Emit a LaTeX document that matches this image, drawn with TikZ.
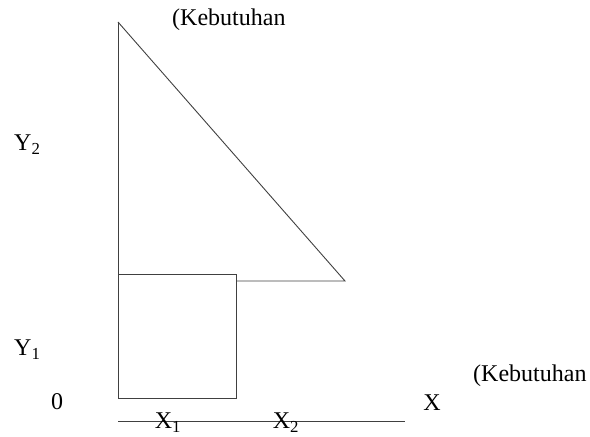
\documentclass[tikz,border=0pt]{standalone}
\usepackage{fontspec}
\setmainfont{Liberation Serif}
\begin{document}
\begin{tikzpicture}[x=1pt,y=-1pt,
  ln/.style={draw=black!75,line width=0.9pt},
  lbl/.style={font=\fontsize{24}{28}\selectfont,inner sep=0pt,anchor=center}]
\useasboundingbox (0,0) rectangle (590,437);
% points
\coordinate (apex) at (118,22);
\coordinate (tip) at (345,281);
\coordinate (bl) at (118,398);
\coordinate (br) at (236,398);
\coordinate (tl) at (118,274);
\coordinate (tr) at (236,274);
\coordinate (sh) at (236,281);
\coordinate (ax0) at (118,421);
\coordinate (ax1) at (405,421);
% shapes
\draw[ln] (apex) -- (bl) -- (br) -- (tr) -- (tl);
\draw[ln] (apex) -- (tip) -- (sh);
\draw[ln] (ax0) -- (ax1);
% labels
\node[lbl,anchor=west] (k1) at (172,20) {(Kebutuhan};
\node[lbl,anchor=west] (k2) at (473,376) {(Kebutuhan};
\node[lbl,anchor=west] (y2) at (14,145) {Y\textsubscript{2}};
\node[lbl,anchor=west] (y1) at (14,350) {Y\textsubscript{1}};
\node[lbl] (o) at (57,402) {0};
\node[lbl] (x) at (432,403) {X};
\node[lbl] (x1) at (168,423) {X\textsubscript{1}};
\node[lbl] (x2) at (286,423) {X\textsubscript{2}};
\end{tikzpicture}
\end{document}
